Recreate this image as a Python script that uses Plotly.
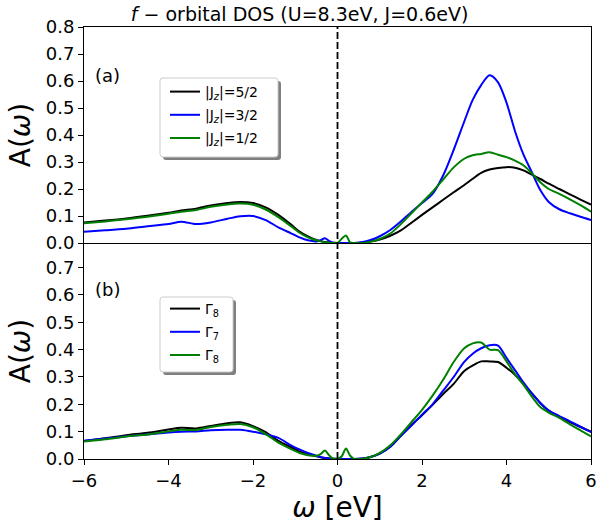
import plotly.graph_objects as go
from plotly.subplots import make_subplots

# Energy grid (eV)
omega = [-6.0, -5.5, -5.0, -4.5, -4.0, -3.7, -3.35, -3.0, -2.6, -2.3, -2.0, -1.7,
         -1.4, -1.1, -0.9, -0.7, -0.5, -0.4, -0.3, -0.2, -0.1, 0.0, 0.1, 0.2,
         0.3, 0.4, 0.6, 0.8, 1.0, 1.25, 1.5, 1.75, 2.0, 2.25, 2.5, 2.75, 3.0,
         3.2, 3.4, 3.6, 3.8, 4.0, 4.2, 4.4, 4.6, 4.8, 5.0, 5.25, 5.5, 5.75, 6.0]

# (a) |Jz| resolved spectral functions
dos_jz52 = [0.076, 0.083, 0.091, 0.101, 0.112, 0.120, 0.127, 0.139, 0.148, 0.152, 0.148, 0.132,
            0.104, 0.068, 0.042, 0.024, 0.011, 0.007, 0.004, 0.002, 0.001, 0.0, 0.0, 0.0,
            0.0, 0.0, 0.002, 0.006, 0.013, 0.027, 0.047, 0.075, 0.104, 0.132, 0.160, 0.188, 0.215,
            0.238, 0.260, 0.272, 0.278, 0.281, 0.279, 0.269, 0.253, 0.237, 0.220, 0.200, 0.180, 0.161, 0.142]
dos_jz32 = [0.042, 0.047, 0.053, 0.062, 0.070, 0.079, 0.070, 0.076, 0.090, 0.099, 0.100, 0.085,
            0.058, 0.036, 0.021, 0.010, 0.006, 0.010, 0.018, 0.008, 0.001, 0.0, 0.0, 0.0,
            0.0, 0.0, 0.004, 0.012, 0.025, 0.048, 0.080, 0.115, 0.148, 0.182, 0.250, 0.345, 0.450,
            0.530, 0.585, 0.621, 0.595, 0.520, 0.415, 0.328, 0.262, 0.196, 0.152, 0.125, 0.110, 0.097, 0.085]
dos_jz12 = [0.073, 0.080, 0.088, 0.097, 0.108, 0.116, 0.122, 0.134, 0.143, 0.146, 0.142, 0.124,
            0.096, 0.062, 0.038, 0.021, 0.010, 0.006, 0.003, 0.001, 0.0, 0.0, 0.016, 0.028,
            0.002, 0.0, 0.0, 0.005, 0.015, 0.035, 0.070, 0.110, 0.150, 0.190, 0.235, 0.280, 0.312,
            0.325, 0.330, 0.336, 0.327, 0.318, 0.305, 0.288, 0.258, 0.225, 0.200, 0.182, 0.162, 0.140, 0.116]

# (b) cubic-harmonic resolved spectral functions
dos_g8a = [0.066, 0.076, 0.087, 0.096, 0.108, 0.114, 0.112, 0.121, 0.131, 0.134, 0.120, 0.098,
           0.066, 0.043, 0.028, 0.018, 0.010, 0.006, 0.004, 0.002, 0.001, 0.0, 0.0, 0.0,
           0.0, 0.0, 0.002, 0.008, 0.020, 0.045, 0.085, 0.125, 0.160, 0.198, 0.238, 0.275, 0.322,
           0.342, 0.357, 0.357, 0.355, 0.334, 0.308, 0.275, 0.240, 0.205, 0.177, 0.155, 0.135, 0.117, 0.100]
dos_g7 = [0.067, 0.075, 0.083, 0.090, 0.097, 0.100, 0.101, 0.105, 0.107, 0.107, 0.100, 0.090,
          0.077, 0.050, 0.035, 0.022, 0.012, 0.007, 0.004, 0.002, 0.001, 0.0, 0.0, 0.0,
          0.0, 0.0, 0.002, 0.008, 0.020, 0.045, 0.085, 0.122, 0.162, 0.200, 0.250, 0.300, 0.355,
          0.385, 0.405, 0.416, 0.415, 0.370, 0.325, 0.280, 0.240, 0.205, 0.177, 0.157, 0.138, 0.118, 0.098]
dos_g8b = [0.064, 0.072, 0.082, 0.090, 0.101, 0.107, 0.106, 0.117, 0.125, 0.128, 0.116, 0.091,
           0.060, 0.036, 0.022, 0.014, 0.012, 0.018, 0.031, 0.014, 0.001, 0.0, 0.010, 0.038,
           0.012, 0.0, 0.001, 0.008, 0.022, 0.050, 0.090, 0.135, 0.180, 0.232, 0.290, 0.355, 0.405,
           0.423, 0.426, 0.400, 0.398, 0.357, 0.310, 0.272, 0.228, 0.190, 0.170, 0.150, 0.127, 0.105, 0.083]

fermi_level = 0.0

top_series = [("|J<sub><i>z</i></sub>|=5/2", dos_jz52, "#000000"),
              ("|J<sub><i>z</i></sub>|=3/2", dos_jz32, "#0000ff"),
              ("|J<sub><i>z</i></sub>|=1/2", dos_jz12, "#008000")]
bottom_series = [("Γ<sub>8</sub>", dos_g8a, "#000000"),
                 ("Γ<sub>7</sub>", dos_g7, "#0000ff"),
                 ("Γ<sub>8</sub>", dos_g8b, "#008000")]

FONT = "DejaVu Sans"
W, H = 598, 524
ML, MR, MT, MB = 84, 7, 27, 65
PW, PH = W - ML - MR, H - MT - MB


def px(xp):
    return (xp - ML) / PW


def py(yp):
    return (H - MB - yp) / PH


fig = make_subplots(rows=2, cols=1, shared_xaxes=True, vertical_spacing=0)

for i, (name, ys, col) in enumerate(top_series):
    fig.add_trace(go.Scatter(x=omega, y=ys, mode="lines", name=name,
                             line=dict(color=col, width=2, shape="spline", smoothing=0.8),
                             legend="legend", legendgroup=f"a{i}"), row=1, col=1)
for i, (name, ys, col) in enumerate(bottom_series):
    fig.add_trace(go.Scatter(x=omega, y=ys, mode="lines", name=name,
                             line=dict(color=col, width=2, shape="spline", smoothing=0.8),
                             legend="legend2", legendgroup=f"b{i}"), row=2, col=1)

axis_common = dict(showline=True, mirror=True, linecolor="black", linewidth=1,
                   ticks="outside", ticklen=5, tickwidth=1, tickcolor="black",
                   showgrid=False, zeroline=False, automargin=False,
                   tickfont=dict(family=FONT, size=18, color="black"))

xt = [-6, -4, -2, 0, 2, 4, 6]
xt_text = [f"{v}".replace("-", "−") for v in xt]
fig.update_xaxes(range=[-6, 6], tickvals=xt, ticktext=xt_text, **axis_common)
fig.update_xaxes(ticks="", showticklabels=False, row=1, col=1)
# the shared boundary between the panels is drawn once, by the upper panel
fig.update_xaxes(mirror=False, row=2, col=1,
                 title=dict(text="<i>ω</i> [eV]", font=dict(family=FONT, size=28, color="black"),
                            standoff=9))

yt_top = [round(0.1 * k, 1) for k in range(9)]
yt_bot = [round(0.1 * k, 1) for k in range(8)]
ytitle = dict(text="A(<i>ω</i>)", font=dict(family=FONT, size=28, color="black"), standoff=6)
fig.update_yaxes(range=[0, 0.8], tickvals=yt_top, ticktext=[f"{v:.1f}" for v in yt_top],
                 title=ytitle, row=1, col=1, **axis_common)
fig.update_yaxes(range=[0, 0.79], tickvals=yt_bot, ticktext=[f"{v:.1f}" for v in yt_bot],
                 title=ytitle, row=2, col=1, **axis_common)

# Fermi level marker
fig.add_shape(type="line", xref="x", yref="paper", x0=fermi_level, x1=fermi_level, y0=0, y1=1,
              line=dict(color="black", width=1.8, dash="7px,3px"), layer="above")

# Panel tags
fig.add_annotation(x=-5.78, y=0.62, xref="x", yref="y", text="(a)", showarrow=False,
                   xanchor="left", yanchor="middle", font=dict(family=FONT, size=18, color="black"))
fig.add_annotation(x=-5.78, y=0.62, xref="x2", yref="y2", text="(b)", showarrow=False,
                   xanchor="left", yanchor="middle", font=dict(family=FONT, size=18, color="black"))


def rounded_box(x0, y0, x1, y1, r=3):
    # pixel rectangle -> rounded path in paper coordinates
    def P(a, b):
        return f"{px(a):.5f},{py(b):.5f}"
    return (f"M{P(x0 + r, y0)} L{P(x1 - r, y0)} Q{P(x1, y0)} {P(x1, y0 + r)} "
            f"L{P(x1, y1 - r)} Q{P(x1, y1)} {P(x1 - r, y1)} L{P(x0 + r, y1)} "
            f"Q{P(x0, y1)} {P(x0, y1 - r)} L{P(x0, y0 + r)} Q{P(x0, y0)} {P(x0 + r, y0)} Z")


for (bx0, by0, bx1, by1) in [(160, 78, 278, 157), (160, 297, 233, 372)]:
    fig.add_shape(type="path", xref="paper", yref="paper",
                  path=rounded_box(bx0 + 3, by0 + 3, bx1 + 3, by1 + 3),
                  fillcolor="rgba(0,0,0,0.5)", line=dict(width=0), layer="above")
    fig.add_shape(type="path", xref="paper", yref="paper",
                  path=rounded_box(bx0, by0, bx1, by1),
                  fillcolor="white", line=dict(color="#cccccc", width=1), layer="above")

legend_common = dict(bgcolor="rgba(0,0,0,0)", borderwidth=0, xanchor="left", yanchor="top",
                     font=dict(family=FONT, size=14, color="black"), tracegroupgap=2,
                     itemclick=False, itemdoubleclick=False)
fig.update_layout(
    legend=dict(x=px(165), y=py(76), **legend_common),
    legend2=dict(x=px(165), y=py(293), **legend_common),
)

fig.update_layout(
    width=W, height=H,
    margin=dict(l=ML, r=MR, t=MT, b=MB, autoexpand=False),
    paper_bgcolor="white", plot_bgcolor="white",
    title=dict(text="<i>f</i> − orbital DOS (U=8.3eV, J=0.6eV)",
               font=dict(family=FONT, size=19, color="black"),
               x=px(338), xanchor="center", y=1 - 14 / H, yanchor="middle", yref="container"),
    showlegend=True,
)

fig.write_html("out.html")
